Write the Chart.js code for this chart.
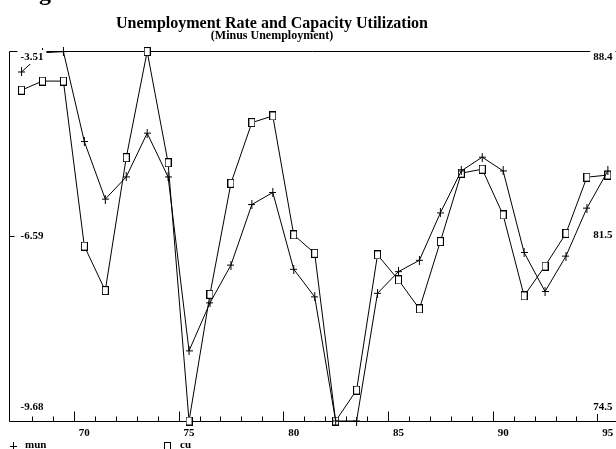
<!DOCTYPE html>
<html>
<head>
<meta charset="utf-8">
<script src="https://cdn.jsdelivr.net/npm/chart.js@4/dist/chart.umd.min.js"></script>
<style>
  html, body { margin: 0; padding: 0; background: #fff; overflow: hidden; }
  #wrap { position: relative; width: 616px; height: 449px; }
  canvas { display: block; }
</style>
</head>
<body>
<div id="wrap"><canvas id="c" width="616" height="449"></canvas></div>
<script>
// Years (19xx) and the two series
const years = [67, 68, 69, 70, 71, 72, 73, 74, 75, 76, 77, 78, 79, 80, 81,
               82, 83, 84, 85, 86, 87, 88, 89, 90, 91, 92, 93, 94, 95];
// minus the unemployment rate (left axis)
const mun = [-3.86, -3.54, -3.52, -5.02, -5.98, -5.61, -4.88, -5.61, -8.51, -7.71,
             -7.08, -6.07, -5.87, -7.15, -7.61, -9.68, -9.68, -7.55, -7.19, -7.00,
             -6.21, -5.51, -5.28, -5.51, -6.87, -7.52, -6.93, -6.13, -5.51];
// capacity utilization (right axis)
const cu = [86.93, 87.27, 87.27, 81.07, 79.40, 84.39, 88.38, 84.20, 74.50, 79.26,
            83.43, 85.71, 85.96, 81.49, 80.80, 74.50, 75.66, 80.74, 79.80, 78.71,
            81.24, 83.81, 83.96, 82.24, 79.20, 80.32, 81.55, 83.66, 83.74];

const munTicks = [-9.68, -6.59, -3.51];
const cuTicks = [74.5, 81.5, 88.4];
const yearLabels = [70, 75, 80, 85, 90, 95];

const titleText = 'Unemployment Rate and Capacity Utilization';
const subtitleText = '(Minus Unemployment)';

const SERIF = '"Liberation Serif", "Times New Roman", serif';

// marker glyphs
function makePlus() {
  const c = document.createElement('canvas');
  c.width = 7; c.height = 9;
  const g = c.getContext('2d');
  g.strokeStyle = '#000'; g.lineWidth = 1;
  g.beginPath();
  g.moveTo(0, 4.5); g.lineTo(7, 4.5);
  g.moveTo(3.5, 0); g.lineTo(3.5, 9);
  g.stroke();
  return c;
}
function makeBox() {
  const c = document.createElement('canvas');
  c.width = 7; c.height = 9;
  const g = c.getContext('2d');
  g.fillStyle = '#fff'; g.fillRect(0, 0, 7, 9);
  g.strokeStyle = '#000'; g.lineWidth = 1;
  g.strokeRect(0.5, 0.5, 6, 8);
  return c;
}
const plusImg = makePlus();
const boxImg = makeBox();

const crisp = v => Math.round(v) + 0.5;

function boxedLabel(ctx, text, x, y, align) {
  ctx.font = 'bold 11px ' + SERIF;
  const w = ctx.measureText(text).width;
  const x0 = align === 'left' ? x : x - w;
  ctx.fillStyle = '#fff';
  ctx.fillRect(x0 - 3, y - 7, w + 6, 14);
  ctx.fillStyle = '#000';
  ctx.textAlign = align;
  ctx.textBaseline = 'middle';
  ctx.fillText(text, x, y);
}

const framePlugin = {
  id: 'frame',
  beforeDatasetsDraw(chart) {
    const ctx = chart.ctx;
    const xs = chart.scales.x, yl = chart.scales.yL;
    const top = crisp(yl.getPixelForValue(munTicks[2]));
    const bot = crisp(yl.getPixelForValue(munTicks[0]));
    const left = crisp(xs.left) - 1;
    ctx.save();
    ctx.strokeStyle = '#000';
    ctx.lineWidth = 1;
    ctx.beginPath();
    // top border, left border, bottom axis
    ctx.moveTo(left, top); ctx.lineTo(chart.width, top);
    ctx.moveTo(left, top); ctx.lineTo(left, bot);
    ctx.moveTo(left, bot); ctx.lineTo(chart.width, bot);
    // tick at the middle of the left axis
    const ym = crisp(yl.getPixelForValue(munTicks[1]));
    ctx.moveTo(left, ym); ctx.lineTo(left + 5, ym);
    // year boundary ticks pointing up from the axis
    for (let i = 1; i < years.length; i++) {
      const yr = years[i];
      const px = crisp(xs.getPixelForValue(yr - 0.5));
      const len = yr % 5 === 0 ? 10 : 5;
      ctx.moveTo(px, bot); ctx.lineTo(px, bot - len);
    }
    ctx.stroke();
    ctx.restore();
  },
  afterDatasetsDraw(chart) {
    const ctx = chart.ctx;
    const xs = chart.scales.x, yl = chart.scales.yL, yr = chart.scales.yR;
    ctx.save();

    // clipped glyph at the top-left corner
    ctx.font = 'bold 24px ' + SERIF;
    ctx.fillStyle = '#000';
    ctx.textAlign = 'left';
    ctx.textBaseline = 'alphabetic';
    ctx.fillText('g', 39, 0);

    // title and subtitle
    ctx.textAlign = 'center';
    ctx.font = 'bold 16px ' + SERIF;
    ctx.fillText(titleText, 272, 28);
    ctx.font = 'bold 12px ' + SERIF;
    ctx.fillText(subtitleText, 272, 39);

    // left axis values
    const offs = [-14, 0, 6];
    munTicks.forEach((v, i) => {
      boxedLabel(ctx, v.toFixed(2), 20.5, yl.getPixelForValue(v) + offs[i], 'left');
    });
    // right axis values
    cuTicks.forEach((v, i) => {
      boxedLabel(ctx, v.toFixed(1), 612.5, yr.getPixelForValue(v) + offs[i], 'right');
    });

    // year labels
    ctx.font = 'bold 11px ' + SERIF;
    ctx.fillStyle = '#000';
    ctx.textAlign = 'center';
    ctx.textBaseline = 'middle';
    yearLabels.forEach(v => {
      ctx.fillText(String(v), xs.getPixelForValue(v), 433);
    });

    // legend
    const ds = chart.data.datasets;
    ctx.drawImage(plusImg, 10, 442);
    ctx.drawImage(boxImg, 164, 442);
    ctx.textAlign = 'left';
    ctx.textBaseline = 'alphabetic';
    ctx.font = 'bold 11px ' + SERIF;
    ctx.fillText(ds[0].label, 25, 448);
    ctx.fillText(ds[1].label, 180, 448);

    ctx.restore();
  }
};

new Chart(document.getElementById('c'), {
  type: 'line',
  data: {
    datasets: [
      {
        label: 'mun',
        data: years.map((y, i) => ({ x: y, y: mun[i] })),
        xAxisID: 'x', yAxisID: 'yL',
        borderColor: '#000', borderWidth: 1,
        pointStyle: plusImg, pointRadius: 4,
        tension: 0, fill: false, clip: false
      },
      {
        label: 'cu',
        data: years.map((y, i) => ({ x: y, y: cu[i] })),
        xAxisID: 'x', yAxisID: 'yR',
        borderColor: '#000', borderWidth: 1,
        pointStyle: boxImg, pointRadius: 4,
        tension: 0, fill: false, clip: false
      }
    ]
  },
  options: {
    responsive: false,
    animation: false,
    devicePixelRatio: 1,
    events: [],
    layout: { padding: { left: 10, right: 0, top: 51, bottom: 28 } },
    plugins: {
      legend: { display: false },
      title: { display: false },
      tooltip: { enabled: false }
    },
    scales: {
      x: { type: 'linear', min: 66.45, max: 95.15, display: false },
      yL: { type: 'linear', position: 'left', min: munTicks[0], max: munTicks[2], display: false },
      yR: { type: 'linear', position: 'right', min: cuTicks[0], max: cuTicks[2], display: false }
    }
  },
  plugins: [framePlugin]
});
</script>
</body>
</html>
